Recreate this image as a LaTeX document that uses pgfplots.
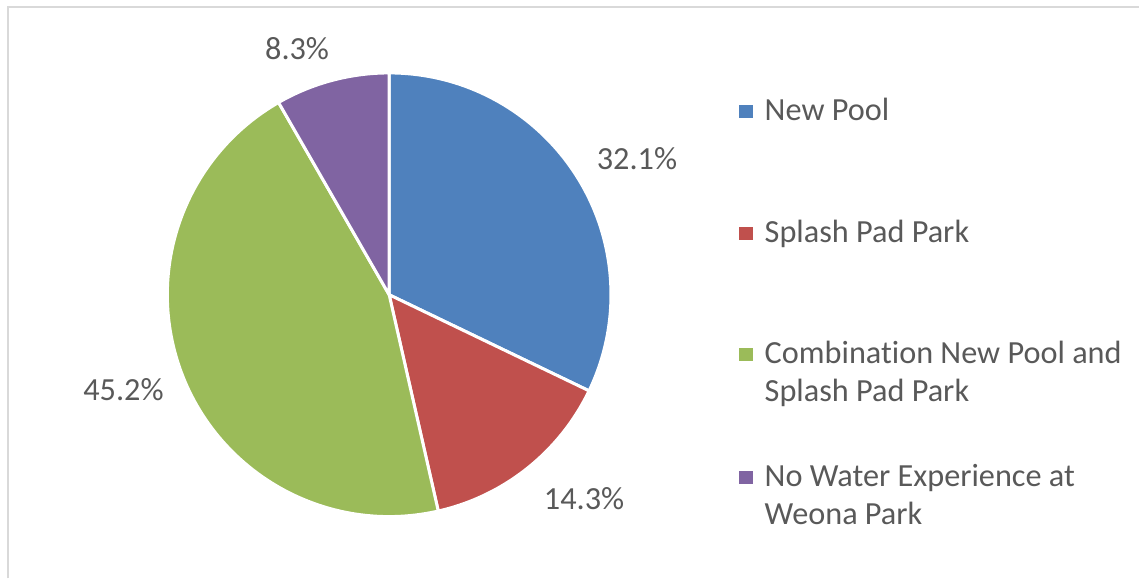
\documentclass[border=0pt]{standalone}
\usepackage{pgfplots}
\pgfplotsset{compat=1.18}
\usepackage{pgfplotstable}
\usepackage{fontspec}
\setmainfont{Carlito}[Ligatures=NoCommon]
\definecolor{cA}{HTML}{4F81BD}
\definecolor{cB}{HTML}{C0504D}
\definecolor{cC}{HTML}{9BBB59}
\definecolor{cD}{HTML}{8064A2}
\definecolor{txt}{HTML}{595959}
\definecolor{frm}{HTML}{D9D9D9}
\pgfplotstableread{
id value
A 32.1
B 14.3
C 45.2
D 8.3
}\piedata
\begin{document}
\fontsize{16.2}{19}\selectfont
\begin{tikzpicture}
\pgfplotstablegetelem{0}{value}\of\piedata \let\vA\pgfplotsretval
\pgfplotstablegetelem{1}{value}\of\piedata \let\vB\pgfplotsretval
\pgfplotstablegetelem{2}{value}\of\piedata \let\vC\pgfplotsretval
\pgfplotstablegetelem{3}{value}\of\piedata \let\vD\pgfplotsretval
\pgfmathsetmacro\tot{\vA+\vB+\vC+\vD}
\pgfmathsetmacro\aA{90}
\pgfmathsetmacro\aB{\aA-360*\vA/\tot}
\pgfmathsetmacro\aC{\aB-360*\vB/\tot}
\pgfmathsetmacro\aD{\aC-360*\vC/\tot}
\pgfmathsetmacro\aE{-270}
\begin{axis}[
  scale only axis, width=570bp, height=289.5bp,
  xmin=0, xmax=1140, ymin=0, ymax=579,
  hide axis, clip=false,
]
\addplot[draw=none] coordinates {(0,0) (1140,579)};
% frame
\draw[frm, line width=1bp] (axis cs:8,0) -- (axis cs:8,572) -- (axis cs:1140,572);
% wedges
\def\cx{389.5}\def\cy{284}
\filldraw[fill=cA, draw=white, line width=1.5bp, line join=round] (axis cs:\cx,\cy) -- ++(\aA:111bp) arc[start angle=\aA, end angle=\aB, radius=111bp] -- cycle;
\filldraw[fill=cB, draw=white, line width=1.5bp, line join=round] (axis cs:\cx,\cy) -- ++(\aB:111bp) arc[start angle=\aB, end angle=\aC, radius=111bp] -- cycle;
\filldraw[fill=cC, draw=white, line width=1.5bp, line join=round] (axis cs:\cx,\cy) -- ++(\aC:111bp) arc[start angle=\aC, end angle=\aD, radius=111bp] -- cycle;
\filldraw[fill=cD, draw=white, line width=1.5bp, line join=round] (axis cs:\cx,\cy) -- ++(\aD:111bp) arc[start angle=\aD, end angle=\aE, radius=111bp] -- cycle;
% data labels
\pgfkeys{/pgf/number format/.cd, fixed, precision=1, fixed zerofill, assume math mode=true}
\node[anchor=base west, inner sep=0, text=txt] at (axis cs:597,579-170) {\pgfmathprintnumber{\vA}\%};
\node[anchor=base west, inner sep=0, text=txt] at (axis cs:544,579-510) {\pgfmathprintnumber{\vB}\%};
\node[anchor=base west, inner sep=0, text=txt] at (axis cs:83,579-401) {\pgfmathprintnumber{\vC}\%};
\node[anchor=base west, inner sep=0, text=txt] at (axis cs:265,579-60) {\pgfmathprintnumber{\vD}\%};
% legend
\fill[cA] (axis cs:740,579-118) rectangle (axis cs:754,579-105);
\fill[cB] (axis cs:740,579-240) rectangle (axis cs:754,579-227);
\fill[cC] (axis cs:740,579-361) rectangle (axis cs:754,579-348);
\fill[cD] (axis cs:740,579-484) rectangle (axis cs:754,579-471);
\node[anchor=base west, inner sep=0, text=txt] at (axis cs:765,579-121) {New Pool};
\node[anchor=base west, inner sep=0, text=txt] at (axis cs:765,579-243) {Splash Pad Park};
\node[anchor=base west, inner sep=0, text=txt, align=left] at (axis cs:765,579-402) {Combinat\kern0pt ion New Pool and\\Splash Pad Park};
\node[anchor=base west, inner sep=0, text=txt, align=left] at (axis cs:765,579-525) {No Water Experience at\\Weona Park};
\end{axis}
\end{tikzpicture}
\end{document}
